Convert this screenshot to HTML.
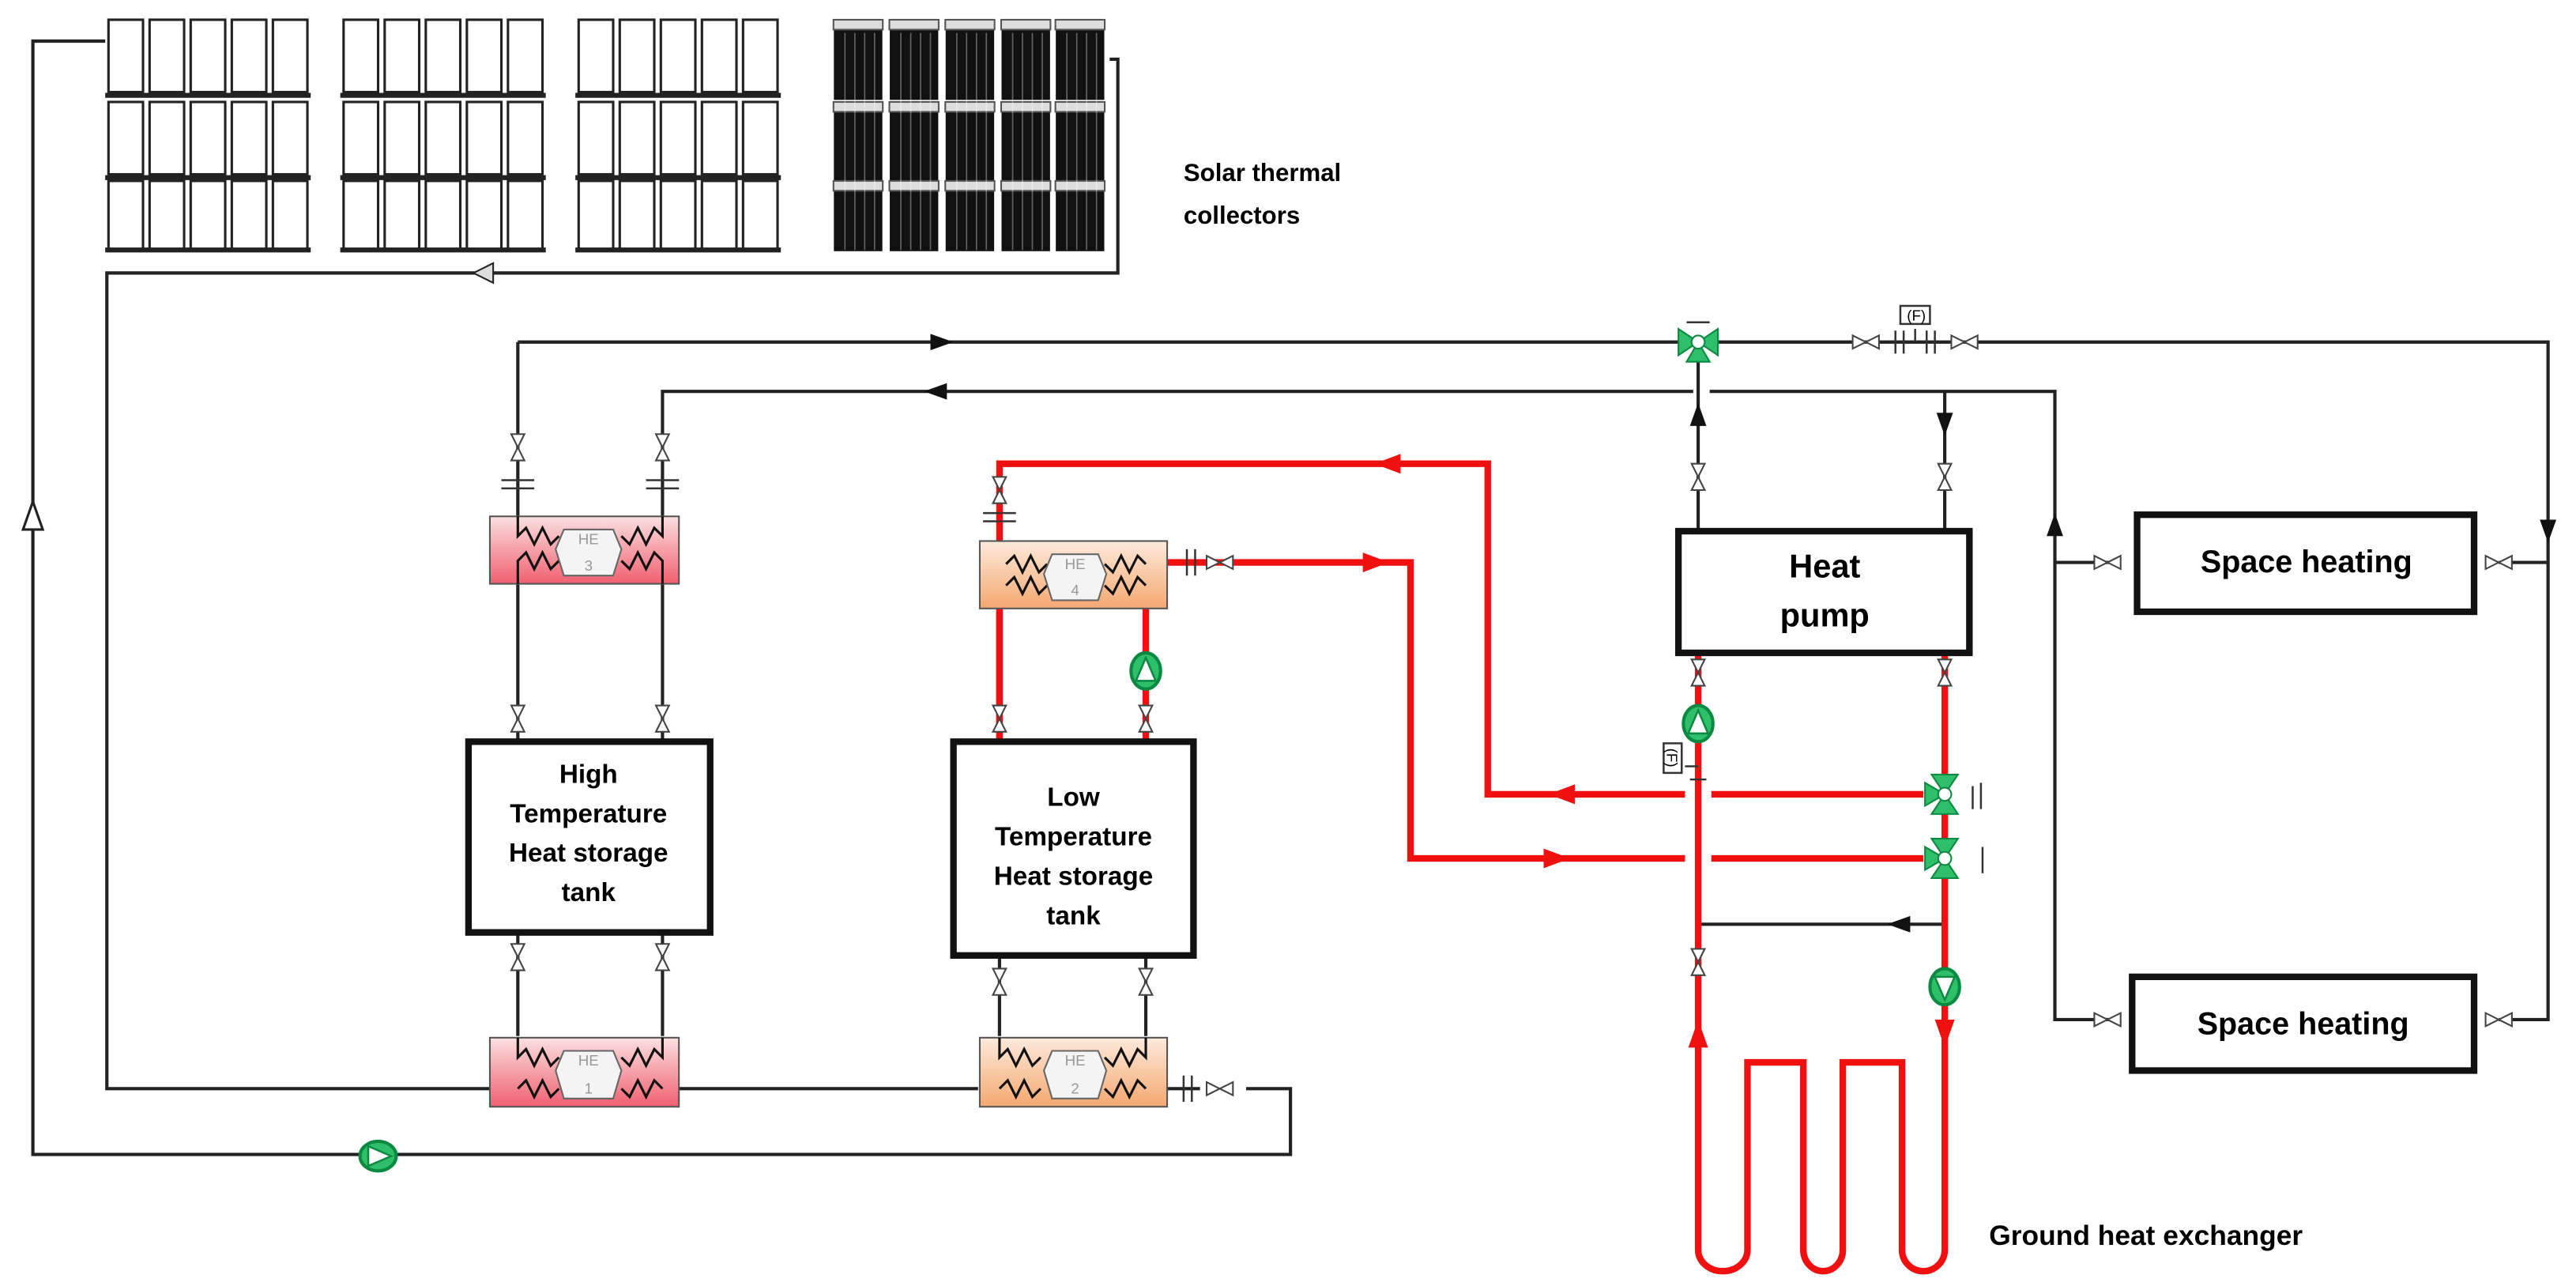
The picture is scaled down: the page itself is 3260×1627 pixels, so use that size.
<!DOCTYPE html>
<html><head><meta charset="utf-8"><style>
html,body{margin:0;padding:0;background:#fff;}
svg{display:block}
text{font-family:"Liberation Sans",Arial,sans-serif;font-weight:bold;fill:#000}
</style></head><body>
<svg width="3260" height="1627" viewBox="0 0 1567 782" preserveAspectRatio="none" xmlns="http://www.w3.org/2000/svg">
<defs>
<linearGradient id="pk" x1="0" y1="0" x2="0" y2="1"><stop offset="0" stop-color="#fbe0e0"/><stop offset="1" stop-color="#f06070"/></linearGradient>
<linearGradient id="or" x1="0" y1="0" x2="0" y2="1"><stop offset="0" stop-color="#fdeadc"/><stop offset="1" stop-color="#f5a870"/></linearGradient>
<g id="vv"><polygon points="-4,-8 4,-8 0,0" fill="#fff" stroke="#444" stroke-width="1"/><polygon points="-4,8 4,8 0,0" fill="#fff" stroke="#444" stroke-width="1"/></g>
<g id="vh"><polygon points="-8,-4 -8,4 0,0" fill="#fff" stroke="#444" stroke-width="1"/><polygon points="8,-4 8,4 0,0" fill="#fff" stroke="#444" stroke-width="1"/></g>
<g id="pump"><ellipse cx="0" cy="0" rx="9" ry="11" fill="#2fbf6a" stroke="#0a8a40" stroke-width="2"/><polygon points="0,-8 -6,6 6,6" fill="#fff" stroke="#0a8a40" stroke-width="1.2"/></g>
<g id="v3"><polygon points="-12,-8 -12,8 0,0" fill="#2fbf6a" stroke="#0a8a40"/><polygon points="12,-8 12,8 0,0" fill="#2fbf6a" stroke="#0a8a40"/><polygon points="-7,12 7,12 0,0" fill="#2fbf6a" stroke="#0a8a40"/><circle r="4" fill="#fff" stroke="#0a8a40"/></g>
<g id="v3v"><polygon points="-8,-12 8,-12 0,0" fill="#2fbf6a" stroke="#0a8a40"/><polygon points="-8,12 8,12 0,0" fill="#2fbf6a" stroke="#0a8a40"/><polygon points="-12,-7 -12,7 0,0" fill="#2fbf6a" stroke="#0a8a40"/><circle r="4" fill="#fff" stroke="#0a8a40"/></g>
</defs>

<!-- Solar collectors -->
<g stroke="#222" stroke-width="1.5" fill="#fff">
<g id="colgrp">
 <rect x="66" y="12" width="21" height="44"/><rect x="91" y="12" width="21" height="44"/><rect x="116" y="12" width="21" height="44"/><rect x="141" y="12" width="21" height="44"/><rect x="166" y="12" width="21" height="44"/>
 <rect x="66" y="62" width="21" height="44"/><rect x="91" y="62" width="21" height="44"/><rect x="116" y="62" width="21" height="44"/><rect x="141" y="62" width="21" height="44"/><rect x="166" y="62" width="21" height="44"/>
 <rect x="66" y="110" width="21" height="42"/><rect x="91" y="110" width="21" height="42"/><rect x="116" y="110" width="21" height="42"/><rect x="141" y="110" width="21" height="42"/><rect x="166" y="110" width="21" height="42"/>
 <line x1="64" y1="58" x2="189" y2="58" stroke-width="3"/><line x1="64" y1="108" x2="189" y2="108" stroke-width="3"/><line x1="64" y1="152" x2="189" y2="152" stroke-width="3"/>
</g>
<use href="#colgrp" x="143"/>
<use href="#colgrp" x="286"/>
</g>
<g stroke="#111" stroke-width="1.5" fill="#111">
 <rect x="508" y="16" width="28" height="44"/><rect x="542" y="16" width="28" height="44"/><rect x="576" y="16" width="28" height="44"/><rect x="610" y="16" width="28" height="44"/><rect x="643" y="16" width="28" height="44"/>
 <rect x="508" y="66" width="28" height="44"/><rect x="542" y="66" width="28" height="44"/><rect x="576" y="66" width="28" height="44"/><rect x="610" y="66" width="28" height="44"/><rect x="643" y="66" width="28" height="44"/>
 <rect x="508" y="114" width="28" height="38"/><rect x="542" y="114" width="28" height="38"/><rect x="576" y="114" width="28" height="38"/><rect x="610" y="114" width="28" height="38"/><rect x="643" y="114" width="28" height="38"/>
<g fill="#ddd" stroke="#555" stroke-width="1"><rect x="507" y="12" width="30" height="6"/><rect x="541" y="12" width="30" height="6"/><rect x="575" y="12" width="30" height="6"/><rect x="609" y="12" width="30" height="6"/><rect x="642" y="12" width="30" height="6"/>
<rect x="507" y="62" width="30" height="6"/><rect x="541" y="62" width="30" height="6"/><rect x="575" y="62" width="30" height="6"/><rect x="609" y="62" width="30" height="6"/><rect x="642" y="62" width="30" height="6"/>
<rect x="507" y="110" width="30" height="6"/><rect x="541" y="110" width="30" height="6"/><rect x="575" y="110" width="30" height="6"/><rect x="609" y="110" width="30" height="6"/><rect x="642" y="110" width="30" height="6"/></g>
</g>
<path d="M514 20V152M520 20V152M526 20V152M532 20V152M548 20V152M554 20V152M560 20V152M566 20V152M582 20V152M588 20V152M594 20V152M600 20V152M616 20V152M622 20V152M628 20V152M634 20V152M649 20V152M655 20V152M661 20V152M667 20V152" stroke="#fff" stroke-width="0.8" opacity="0.35"/>
<text x="720" y="110" font-size="15">Solar thermal</text>
<text x="720" y="136" font-size="15">collectors</text>

<!-- Black piping -->
<g fill="none" stroke="#222" stroke-width="2">
<path d="M64 25H20V702H785V662H758"/>
<path d="M675 36H680V166H65V662H298"/>
<path d="M413 662H595"/><path d="M710 662H730"/>
<path d="M315 208H1550V620H1520"/>
<path d="M403 450V238H1030"/><path d="M1040 238H1250V620H1283"/>
<path d="M1250 342H1283"/><path d="M1520 342H1550"/>
<path d="M315 208V450"/>
<path d="M315 567V630"/><path d="M403 567V630"/>
<path d="M608 582V630"/><path d="M697 582V630"/>
<path d="M1033 208V322"/><path d="M1183 238V322"/>
<path d="M1033 562H1183"/>
</g>
<polygon points="14,322 20,305 26,322" fill="#fff" stroke="#222" stroke-width="1.5"/>
<polygon points="288,166 300,160 300,172" fill="#ddd" stroke="#222"/>
<polygon points="580,208 566,203 566,213" fill="#111"/>
<polygon points="562,238 576,233 576,243" fill="#111"/>
<polygon points="1033,245 1028,259 1038,259" fill="#111"/>
<polygon points="1183,265 1178,251 1188,251" fill="#111"/>
<polygon points="1250,312 1245,326 1255,326" fill="#111"/>
<polygon points="1550,330 1545,316 1555,316" fill="#111"/>
<polygon points="1148,562 1162,557 1162,567" fill="#111"/>

<!-- Red piping -->
<g fill="none" stroke="#f01010" stroke-width="4">
<path d="M608 450V282H905V483H1025"/>
<path d="M1041 483H1170"/>
<path d="M710 342H858V522H1025"/><path d="M1041 522H1170"/>
<path d="M697 370V450"/><path d="M608 370V450"/>
<path d="M1033 397V760A15 13 0 0 0 1063 760V646H1097V760A12 13 0 0 0 1121 760V646H1157V760A13 13 0 0 0 1183 760V397"/>
</g>
<g fill="#f01010">
<polygon points="836,282 852,276 852,288"/>
<polygon points="942,483 958,477 958,489"/>
<polygon points="845,342 829,336 829,348"/>
<polygon points="955,522 939,516 939,528"/>
<polygon points="1033,620 1027,637 1039,637"/>
<polygon points="1183,637 1177,620 1189,620"/>
</g>

<!-- Tanks -->
<g fill="#fff" stroke="#111" stroke-width="4">
<rect x="285" y="451" width="147" height="116"/>
<rect x="580" y="451" width="146" height="130"/>
<rect x="1021" y="323" width="177" height="74"/>
<rect x="1300" y="313" width="205" height="59"/>
<rect x="1297" y="594" width="208" height="57"/>
</g>
<g text-anchor="middle" font-size="16">
<text x="358" y="476">High</text><text x="358" y="500">Temperature</text><text x="358" y="524">Heat storage</text><text x="358" y="548">tank</text>
<text x="653" y="490">Low</text><text x="653" y="514">Temperature</text><text x="653" y="538">Heat storage</text><text x="653" y="562">tank</text>
<text x="1110" y="351" font-size="20">Heat</text><text x="1110" y="381" font-size="20">pump</text>
<text x="1403" y="348" font-size="19">Space heating</text>
<text x="1401" y="629" font-size="19">Space heating</text>
</g>
<text x="1210" y="757" font-size="17">Ground heat exchanger</text>

<!-- Heat exchangers -->
<g stroke="#555" stroke-width="1">
<rect x="298" y="314" width="115" height="41" fill="url(#pk)"/>
<rect x="596" y="329" width="114" height="41" fill="url(#or)"/>
<rect x="298" y="631" width="115" height="42" fill="url(#pk)"/>
<rect x="596" y="631" width="114" height="42" fill="url(#or)"/>
</g>
<g fill="none" stroke="#111" stroke-width="1.5">
<path d="M315 314V326l5 -5 5 10 5 -10 5 10 5 -5M315 355V341l5 -5 5 10 5 -10 5 10 5 -5M403 314V326l-5 -5 -5 10 -5 -10 -5 10 -5 -5M403 355V341l-5 -5 -5 10 -5 -10 -5 10 -5 -5"/>
<path d="M315 631V643l5 -5 5 10 5 -10 5 10 5 -5M315 662l5 -5 5 10 5 -10 5 10 5 -5M403 631V643l-5 -5 -5 10 -5 -10 -5 10 -5 -5M403 662l-5 -5 -5 10 -5 -10 -5 10 -5 -5"/>
<path d="M612 343l5 -5 5 10 5 -10 5 10 5 -5M612 356l5 -5 5 10 5 -10 5 10 5 -5M697 343l-5 -5 -5 10 -5 -10 -5 10 -5 -5M697 356l-5 -5 -5 10 -5 -10 -5 10 -5 -5"/>
<path d="M608 631V643l5 -5 5 10 5 -10 5 10 5 -5M608 662l5 -5 5 10 5 -10 5 10 5 -5M697 631V643l-5 -5 -5 10 -5 -10 -5 10 -5 -5M697 662l-5 -5 -5 10 -5 -10 -5 10 -5 -5"/>
</g>
<g fill="#f4f4f4" stroke="#666" stroke-width="1">
<polygon points="343,322 373,322 378,334 373,350 343,350 338,334"/>
<polygon points="640,337 668,337 673,349 668,365 640,365 635,349"/>
<polygon points="343,639 373,639 378,651 373,668 343,668 338,651"/>
<polygon points="640,639 668,639 673,651 668,668 640,668 635,651"/>
</g>
<g font-size="9" text-anchor="middle">
<text x="358" y="331" style="fill:#999;font-weight:normal">HE</text><text x="358" y="347" style="fill:#999;font-weight:normal">3</text>
<text x="654" y="346" style="fill:#999;font-weight:normal">HE</text><text x="654" y="362" style="fill:#999;font-weight:normal">4</text>
<text x="358" y="648" style="fill:#999;font-weight:normal">HE</text><text x="358" y="665" style="fill:#999;font-weight:normal">1</text>
<text x="654" y="648" style="fill:#999;font-weight:normal">HE</text><text x="654" y="665" style="fill:#999;font-weight:normal">2</text>
</g>

<!-- Valves -->
<use href="#vv" x="315" y="272"/><use href="#vv" x="403" y="272"/>
<use href="#vv" x="315" y="437"/><use href="#vv" x="403" y="437"/>
<use href="#vv" x="315" y="582"/><use href="#vv" x="403" y="582"/>
<use href="#vv" x="608" y="298"/><use href="#vv" x="608" y="437"/><use href="#vv" x="697" y="437"/>
<use href="#vv" x="608" y="597"/><use href="#vv" x="697" y="597"/>
<use href="#vv" x="1033" y="290"/><use href="#vv" x="1183" y="290"/>
<use href="#vv" x="1033" y="409"/><use href="#vv" x="1183" y="409"/>
<use href="#vv" x="1033" y="585"/>
<use href="#vh" x="742" y="342"/><use href="#vh" x="742" y="662"/>
<use href="#vh" x="1135" y="208"/><use href="#vh" x="1195" y="208"/>
<use href="#vh" x="1282" y="342"/><use href="#vh" x="1520" y="342"/>
<use href="#vh" x="1282" y="620"/><use href="#vh" x="1520" y="620"/>
<g stroke="#333" stroke-width="1.2" fill="none">
<path d="M305 292H325M305 297H325M393 292H413M393 297H413M598 312H618M598 317H618M722 334V350M727 334V350M725 654V670M720 654V670"/>
<path d="M1153 201V215M1158 201V215M1172 201V215M1177 201V215M1165 200V208"/>
<rect x="1156" y="186" width="18" height="11"/>
<rect x="1012" y="452" width="11" height="18"/>
<path d="M1025 466H1033M1028 474H1038"/>
</g>
<text x="1160" y="195" font-size="9" style="font-weight:normal">(F)</text>
<text x="0" y="0" font-size="9" style="font-weight:normal" transform="translate(1014 455) rotate(90)">(F)</text>
<use href="#pump" x="697" y="408"/>
<use href="#pump" x="1033" y="440"/>
<g transform="translate(1183 600) rotate(180)"><use href="#pump"/></g>
<g transform="translate(230 703) rotate(90)"><use href="#pump"/></g>
<use href="#v3" x="1033" y="208"/>
<use href="#v3v" x="1183" y="483"/>
<use href="#v3v" x="1183" y="522"/>
<path d="M1026 196H1040M1200 478V492M1205 476V492M1206 515V531" stroke="#333" stroke-width="1.2" fill="none"/>
</svg>
</body></html>
